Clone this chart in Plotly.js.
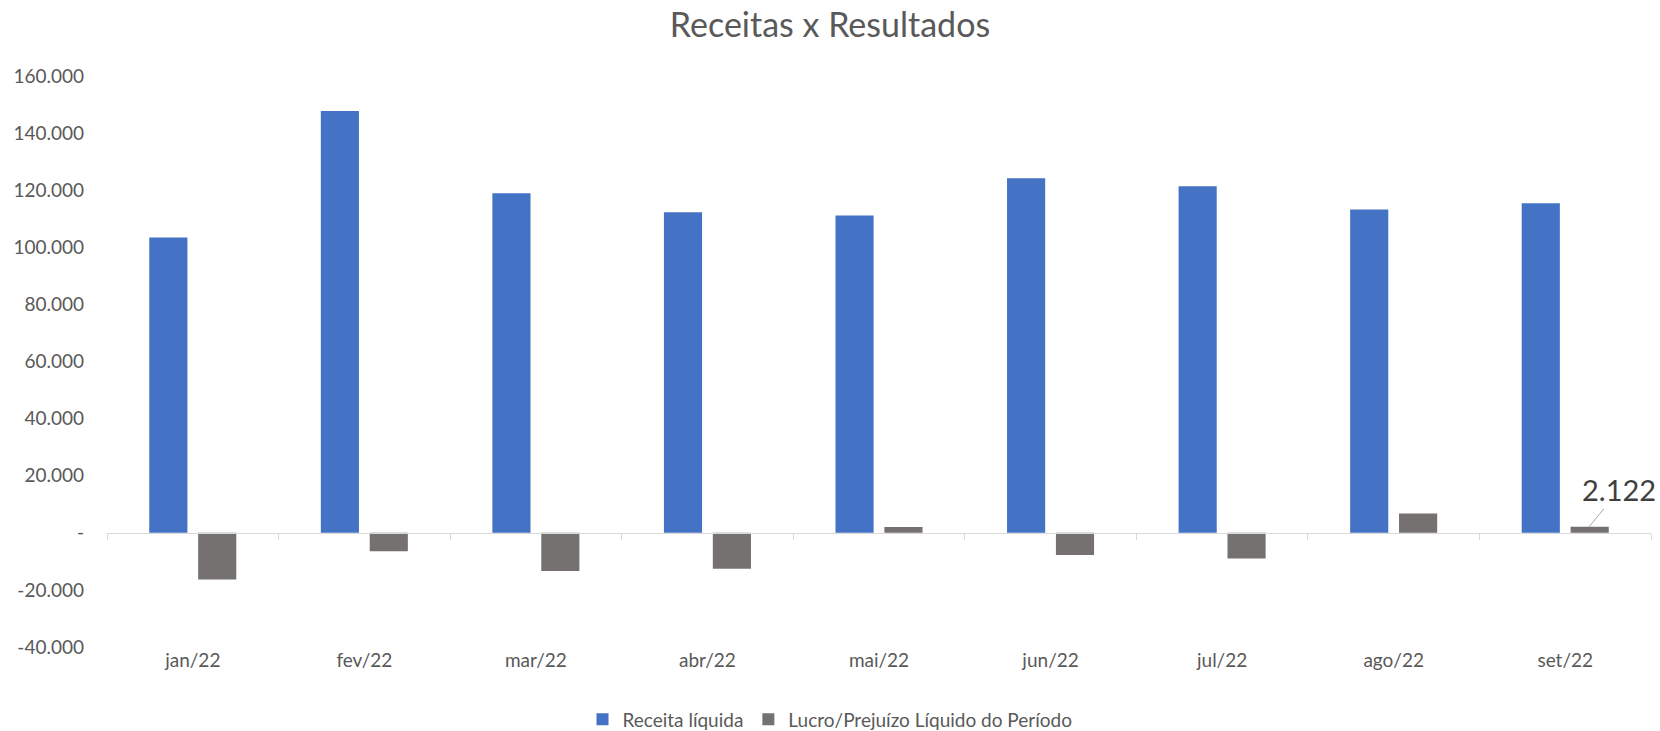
<!DOCTYPE html>
<html>
<head>
<meta charset="utf-8">
<script src="https://cdn.plot.ly/plotly-3.0.1.min.js"></script>
<style>
  html, body { margin: 0; padding: 0; background: #fff; }
  #chart { width: 1660px; height: 731px; }
</style>
</head>
<body>
<div id="chart"></div>
<script>
// Receitas x Resultados
const months = ['jan/22', 'fev/22', 'mar/22', 'abr/22', 'mai/22', 'jun/22', 'jul/22', 'ago/22', 'set/22'];
const receitaLiquida = [103400, 147700, 118900, 112300, 111100, 124200, 121400, 113200, 115400];
const lucroPrejuizo = [-16400, -6500, -13400, -12600, 2000, -7800, -9000, 6800, 2122];

const yTickVals = [-40000, -20000, 0, 20000, 40000, 60000, 80000, 100000, 120000, 140000, 160000];
const yTickText = ['-40.000', '-20.000', '-', '20.000', '40.000', '60.000', '80.000', '100.000', '120.000', '140.000', '160.000'];

const labelFont = 'Lato, "Open Sans", sans-serif';
const textColor = '#595959';

const receitaTrace = {
    type: 'bar',
    name: 'Receita líquida',
    x: months,
    y: receitaLiquida,
    marker: { color: '#4472C4' },
    hoverinfo: 'x+y'
};

const lucroTrace = {
    type: 'bar',
    name: 'Lucro/Prejuízo Líquido do Período',
    x: months,
    y: lucroPrejuizo,
    marker: { color: '#767171' },
    hoverinfo: 'x+y'
};

// invisible helper so the second x axis (the line at zero) gets drawn
const zeroAxisHelper = {
    type: 'scatter',
    mode: 'markers',
    x: months,
    y: months.map(() => null),
    xaxis: 'x2',
    showlegend: false,
    hoverinfo: 'skip'
};

const last = months.length - 1;

const layout = {
    width: 1660,
    height: 731,
    paper_bgcolor: '#ffffff',
    plot_bgcolor: '#ffffff',
    font: { family: labelFont, color: textColor, size: 19 },
    margin: { l: 107, r: 9, t: 76, b: 84 },
    title: {
        text: 'Receitas x Resultados',
        font: { family: labelFont, size: 34, color: textColor },
        x: 0.5,
        xanchor: 'center',
        y: 0.966,
        yanchor: 'middle'
    },
    barmode: 'group',
    bargap: 0.43,
    bargroupgap: 0.22,
    xaxis: {
        type: 'category',
        categoryorder: 'array',
        categoryarray: months,
        range: [-0.5, 8.5],
        showline: false,
        showgrid: false,
        zeroline: false,
        ticks: '',
        tickfont: { family: labelFont, size: 19, color: textColor },
        fixedrange: true
    },
    xaxis2: {
        type: 'category',
        overlaying: 'x',
        categoryorder: 'array',
        categoryarray: months,
        range: [-0.5, 8.5],
        anchor: 'free',
        position: 0.2,
        showline: true,
        linecolor: '#d9d9d9',
        linewidth: 1,
        showgrid: false,
        zeroline: false,
        ticks: 'outside',
        tickson: 'boundaries',
        ticklen: 6,
        tickcolor: '#d9d9d9',
        showticklabels: false,
        fixedrange: true
    },
    yaxis: {
        range: [-40000, 160000],
        tickvals: yTickVals,
        ticktext: yTickText,
        showgrid: false,
        zeroline: false,
        showline: false,
        ticks: '',
        ticklabelstandoff: 22,
        tickfont: { family: labelFont, size: 19, color: textColor },
        fixedrange: true
    },
    legend: {
        orientation: 'h',
        xref: 'container',
        yref: 'container',
        x: 0.5,
        xanchor: 'center',
        y: 0.016,
        yanchor: 'middle',
        itemwidth: 30,
        font: { family: labelFont, size: 19, color: textColor },
        itemclick: false
    },
    annotations: [{
        x: months[last],
        y: lucroPrejuizo[last],
        xshift: 24,
        text: '2.122',
        showarrow: true,
        arrowhead: 0,
        arrowwidth: 1,
        arrowcolor: '#a6a6a6',
        standoff: 0,
        ax: 30,
        ay: -37,
        font: { family: labelFont, size: 29, color: '#404040' }
    }],
    showlegend: true
};

Plotly.newPlot('chart', [receitaTrace, lucroTrace, zeroAxisHelper], layout, { displayModeBar: false, staticPlot: true });
</script>
</body>
</html>
